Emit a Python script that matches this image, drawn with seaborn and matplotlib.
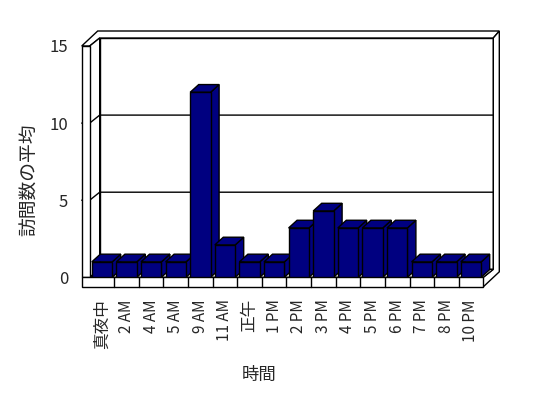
import matplotlib
matplotlib.use("Agg")
import numpy as np
import pandas as pd
import matplotlib.pyplot as plt
import seaborn as sns
from matplotlib.patches import Polygon
from matplotlib.lines import Line2D
from matplotlib.transforms import IdentityTransform, blended_transform_factory

# ---- data ----
hours = ['真夜中', '2 AM', '4 AM', '5 AM', '9 AM', '11 AM', '正午', '1 PM',
         '2 PM', '3 PM', '4 PM', '5 PM', '6 PM', '7 PM', '8 PM', '10 PM']
avg_visits = [1, 1, 1, 1, 12, 2.1, 1, 1, 3.2, 4.3, 3.2, 3.2, 3.2, 1, 1, 1]
y_ticks = [0, 5, 10, 15]
x_title = '時間'
y_title = '訪問数の平均'

NAVY = '#000080'
LWD = 1.0

sns.set_style('white')
plt.rcParams['font.family'] = ['Noto Sans CJK JP', 'DejaVu Sans']

W, H = 548, 398
fig = plt.figure(figsize=(W / 100, H / 100), dpi=100)
fig.patch.set_facecolor('white')
ax = fig.add_axes([89.7 / W, (H - 277.3) / H, 393.6 / W, 231.3 / H])

df = pd.DataFrame({'hour': hours, 'visits': avg_visits})
sns.barplot(data=df, x='hour', y='visits', order=hours, color=NAVY,
            saturation=1, width=0.83, edgecolor='black', linewidth=LWD, ax=ax)
bars = list(ax.patches)

ax.set_xlim(-0.5, len(hours) - 0.5)
ax.set_ylim(y_ticks[0], y_ticks[-1])
ax.set_yticks(y_ticks)
ax.grid(False)
for s in ax.spines.values():
    s.set_visible(False)
ax.patch.set_visible(False)
ax.tick_params(axis='both', length=0)
ax.tick_params(axis='x', pad=15.8, labelsize=11, labelrotation=90)
ax.tick_params(axis='y', pad=15.4, labelsize=12)
for t in ax.get_xticklabels():
    if not t.get_text().isascii():
        t.set_fontsize(12)

ax.set_xlabel(x_title, fontsize=12.5)
ax.xaxis.set_label_coords(0.43, -0.424)
ax.xaxis.label.set_va('center')
ax.set_ylabel(y_title, fontsize=13.5)
ax.yaxis.set_label_coords(-0.154, 0.42)
ax.yaxis.label.set_va('center')

ID = IdentityTransform()
tA = ax.transAxes
tD = ax.transData
tB = blended_transform_factory(ax.transAxes, ax.transData)


def P(t, x, y, off=(0, 0)):
    p = t.transform((x, y))
    return (p[0] + off[0], p[1] + off[1])


def add(a, b):
    return (a[0] + b[0], a[1] + b[1])


def poly(pts, z, fc='white'):
    ax.add_patch(Polygon(pts, closed=True, transform=ID, clip_on=False,
                         fc=fc, ec='black', lw=LWD, zorder=z,
                         joinstyle='miter'))


def line(pts, z):
    xs = [p[0] for p in pts]
    ys = [p[1] for p in pts]
    ax.add_line(Line2D(xs, ys, transform=ID, clip_on=False, color='black',
                       lw=LWD, zorder=z, solid_joinstyle='miter'))


D1 = (10, 8)      # depth to inner face of back wall
D2 = (16, 15)     # depth to outer face of back wall
LW = (-8, 0)      # left wall thickness
FL = (0, -9.5)    # floor thickness

A00, A10, A11, A01 = P(tA, 0, 0), P(tA, 1, 0), P(tA, 1, 1), P(tA, 0, 1)

# back wall
poly([add(A00, D1), add(A10, D1), add(A11, D1), add(A01, D1)], 1)
# top surfaces of walls
poly([add(A01, LW), add(add(A01, LW), D2), add(A11, D2), add(A11, D1),
      add(A01, D1), A01], 1)
# right side of back wall and floor
poly([A10, add(A10, FL), add(add(A10, FL), D2), add(A11, D2), add(A11, D1),
      add(A10, D1)], 1)
# left wall inner side
poly([A00, A01, add(A01, D1), add(A00, D1)], 2)
# floor top
poly([A00, A10, add(A10, D1), add(A00, D1)], 2)
# gridlines
for v in y_ticks[1:-1]:
    a = P(tB, 0, v)
    b = P(tB, 1, v)
    line([add(a, LW), a, add(a, D1), add(b, D1)], 3)
# left wall front face
poly([add(A00, LW), A00, A01, add(A01, LW)], 4)
# floor front face
poly([add(A00, LW), A10, add(A10, FL), add(add(A00, LW), FL)], 4)
for k in range(len(hours) - 1):
    p = P(tD, k + 0.5, 0)
    line([p, add(p, FL)], 5)

# 3D bars
Db = (8.5, 7.7)
for i, b in enumerate(bars):
    x0, w, h = b.get_x(), b.get_width(), b.get_height()
    fl = P(tD, x0, h)
    fr = P(tD, x0 + w, h)
    br = P(tD, x0 + w, 0)
    z = 10 + 2 * i
    poly([br, fr, add(fr, Db), add(br, Db)], z, NAVY)
    poly([fl, fr, add(fr, Db), add(fl, Db)], z, NAVY)
    b.set_zorder(z + 1)

fig.savefig('out.png', dpi=100, facecolor='white')
